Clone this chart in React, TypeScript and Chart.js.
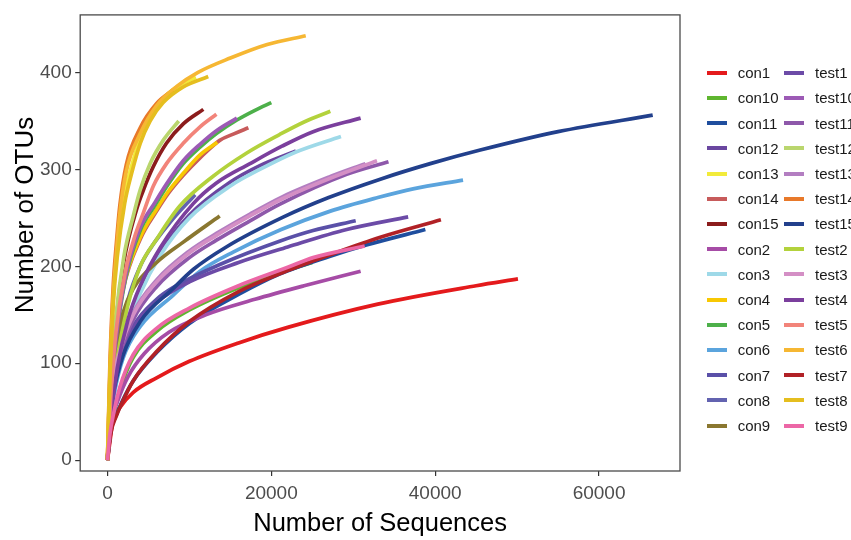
import React, { useEffect, useRef } from "react";
import { Chart, registerables } from "chart.js";
Chart.register(...registerables);

type Pt = [number, number];

// ---- series (x = number of sequences, y = number of OTUs) ----
const con1: Pt[] = [[0,0],[700,41],[1500,54],[3150,70],[6000,85],[10000,102],[16000,121],[22000,137],[33000,161],[45000,180],[50100,187]];
const con10: Pt[] = [[0,0],[300,26],[800,48],[1500,72],[3150,106],[6000,133],[10000,155],[16000,178],[22000,196],[25000,204]];
const con11: Pt[] = [[0,0],[400,30],[1100,47],[1700,59],[3150,82],[6000,111],[10000,141],[16000,171],[21000,192],[27000,210],[31600,222],[38800,238]];
const con12: Pt[] = [[0,0],[500,47],[1200,90],[2500,140],[4000,175],[6500,215],[10000,253],[15000,287],[18600,304],[23000,319]];
const con13: Pt[] = [[0,0],[300,88],[700,165],[1200,218],[2100,275],[3000,305],[4000,332],[5200,355],[6800,373],[9000,388],[10800,395]];
const con14: Pt[] = [[0,0],[400,68],[900,122],[1900,176],[4000,228],[6000,257],[7400,275],[9250,294],[11300,312],[13700,330],[15500,337],[17200,343]];
const con15: Pt[] = [[0,0],[400,70],[1000,140],[2000,205],[3560,259],[4400,279],[5600,303],[7200,327],[9250,347],[11700,362]];
const con2: Pt[] = [[0,0],[400,38],[1200,60],[2500,86],[4500,110],[7500,132],[12000,150],[18000,166],[24000,180],[30900,195]];
const con3: Pt[] = [[0,0],[500,45],[1200,88],[2500,138],[4000,172],[6500,212],[10000,250],[15000,283],[18600,300],[23000,318],[28500,334]];
const con4: Pt[] = [[0,0],[400,70],[900,125],[1900,178],[4000,230],[6000,259],[7400,277],[9250,296],[11300,315],[13400,328]];
const con5: Pt[] = [[0,0],[400,60],[1000,120],[2200,187],[4000,237],[5800,263],[7200,282],[9250,306],[11300,323],[13300,337],[15800,351],[18000,361],[20000,369]];
const con6: Pt[] = [[0,0],[300,42],[700,64],[1900,105],[4000,138],[8000,170],[11300,195],[15400,215],[21200,238],[27200,257],[33000,271],[37300,280],[43400,289]];
const con7: Pt[] = [[0,0],[600,65],[1500,103],[3150,138],[6000,166],[8000,178],[14000,203],[21000,226],[25100,237],[30300,247]];
const con8: Pt[] = [[0,0],[500,60],[1200,110],[2500,165],[4000,200],[5200,218],[7600,245],[10700,274]];
const con9: Pt[] = [[0,0],[500,70],[1000,115],[1900,152],[3150,177],[6000,204],[9250,225],[13700,252]];
const test1: Pt[] = [[0,0],[600,65],[1500,100],[3150,136],[6000,163],[10000,184],[16000,204],[22000,220],[29200,238],[36700,251]];
const test10: Pt[] = [[0,0],[400,62],[1000,122],[2200,190],[4000,240],[5800,266],[7200,285],[9250,309],[11300,326],[13300,340],[15800,353]];
const test11: Pt[] = [[0,0],[600,72],[1500,108],[3150,145],[6000,179],[10000,209],[13300,227],[17400,247],[21000,264],[29200,295],[34300,308]];
const test12: Pt[] = [[0,0],[400,75],[1000,145],[2000,210],[3150,252],[4000,279],[5200,306],[6800,330],[8700,350]];
const test13: Pt[] = [[0,0],[600,76],[1500,114],[3150,152],[6000,186],[10000,216],[13300,234],[17400,254],[21400,272],[27000,292],[31500,306]];
const test14: Pt[] = [[0,0],[300,100],[700,180],[1100,225],[1500,262],[2300,305],[4000,343],[6000,368],[8000,382]];
const test15: Pt[] = [[0,0],[300,45],[700,68],[1900,108],[4000,143],[8000,177],[10500,197],[14500,220],[21500,251],[27000,271],[33300,290],[39400,306],[45500,320],[55000,339],[66550,356]];
const test2: Pt[] = [[0,0],[500,55],[1200,105],[2500,160],[4000,200],[6000,228],[8800,262],[12900,293],[17000,317],[21000,336],[24000,349],[27200,360]];
const test3: Pt[] = [[0,0],[600,75],[1500,112],[3150,150],[6000,184],[10000,214],[13300,232],[17400,252],[21400,270],[27200,291],[32900,309]];
const test4: Pt[] = [[0,0],[500,50],[1200,95],[2500,145],[4000,180],[6500,220],[10500,265],[13300,286],[17400,306],[21300,324],[25100,339],[30900,353]];
const test5: Pt[] = [[0,0],[400,65],[1000,130],[2200,195],[3300,230],[4370,255],[5600,283],[7200,306],[9250,327],[11300,344],[13300,357]];
const test6: Pt[] = [[0,0],[300,90],[700,170],[1100,215],[1450,250],[2300,298],[4000,337],[6000,366],[8500,386],[11000,400],[15000,415],[19500,429],[24200,438]];
const test7: Pt[] = [[0,0],[400,28],[1100,46],[1700,58],[3150,82],[6000,112],[10000,143],[16000,174],[21500,194],[27200,212],[33300,230],[40700,248]];
const test8: Pt[] = [[0,0],[300,85],[700,160],[1200,210],[2100,265],[2950,296],[4000,327],[5200,350],[6800,369],[9200,385],[12300,396]];
const test9: Pt[] = [[0,0],[300,27],[800,50],[1500,75],[3150,109],[6000,136],[10000,157],[16000,180],[22000,199],[25100,209],[31400,221]];

const seriesNames = ["con1","con10","con11","con12","con13","con14","con15","con2","con3","con4","con5","con6","con7","con8","con9",
  "test1","test10","test11","test12","test13","test14","test15","test2","test3","test4","test5","test6","test7","test8","test9"];
const seriesData = [con1,con10,con11,con12,con13,con14,con15,con2,con3,con4,con5,con6,con7,con8,con9,
  test1,test10,test11,test12,test13,test14,test15,test2,test3,test4,test5,test6,test7,test8,test9];
const seriesColors = ["#E41A1C","#5FB62F","#1F4E9E","#6A47A0","#F2EB3A","#C75B5B","#8B1C1C","#A64CA6","#9ED9E8","#F8C803","#4DB04A","#5BA4DD","#5A50A8","#6363B0","#8A7730",
  "#6C4BA7","#9C5AB5","#8E58AA","#BAD66E","#B37EC1","#E8792A","#22408C","#B3D23C","#D48FC5","#7B3F9D","#F2847A","#F6B733","#B12126","#E5BE1F","#EC67A6"];

const xTicks = [0, 20000, 40000, 60000];
const yTicks = [0, 100, 200, 300, 400];
const xTitle = "Number of Sequences";
const yTitle = "Number of OTUs";

const FONT = '"Liberation Sans", Arial, Helvetica, sans-serif';

const panelPlugin = {
  id: "panelFrame",
  afterDatasetsDraw(chart: any) {
    const { ctx, chartArea: a } = chart;
    ctx.save();
    ctx.strokeStyle = "#4a4a4a";
    ctx.lineWidth = 1.3;
    ctx.strokeRect(a.left, a.top, a.right - a.left, a.bottom - a.top);
    ctx.fillStyle = "#000";
    ctx.textAlign = "center";
    ctx.textBaseline = "alphabetic";
    ctx.font = `25.5px ${FONT}`;
    ctx.fillText(xTitle, (a.left + a.right) / 2, 530.5);
    ctx.translate(32.5, 215);
    ctx.rotate(-Math.PI / 2);
    ctx.font = `26px ${FONT}`;
    ctx.fillText(yTitle, 0, 0);
    ctx.restore();
  },
};

export default function App() {
  const ref = useRef<HTMLCanvasElement | null>(null);
  useEffect(() => {
    if (!ref.current) return;
    const tickFont = { family: FONT, size: 19 };
    const chart = new Chart(ref.current, {
      type: "line",
      data: {
        datasets: seriesNames.map((name, i) => ({
          label: name,
          data: seriesData[i].map(([x, y]) => ({ x, y })),
          borderColor: seriesColors[i],
          backgroundColor: seriesColors[i],
          borderWidth: 3.7,
          pointRadius: 0,
          pointHoverRadius: 0,
          fill: false,
          cubicInterpolationMode: "monotone" as const,
          order: seriesNames.length - i,
        })),
      },
      options: {
        animation: false,
        responsive: true,
        maintainAspectRatio: false,
        events: [],
        layout: { padding: { top: 10, right: 171, left: 0, bottom: 0 } },
        plugins: { legend: { display: false }, tooltip: { enabled: false } },
        scales: {
          x: {
            type: "linear",
            min: -3328,
            max: 69881,
            afterBuildTicks: (s: any) => { s.ticks = xTicks.map((v) => ({ value: v })); },
            afterFit: (s: any) => { s.height = 69; },
            grid: { drawOnChartArea: false, drawTicks: true, tickLength: 5, color: "#333", lineWidth: 1.2 },
            border: { display: false },
            ticks: { font: tickFont, color: "#4D4D4D", padding: 6, maxRotation: 0, autoSkip: false, callback: (v: any) => String(v) },
          },
          y: {
            type: "linear",
            min: -11.2,
            max: 459.5,
            afterBuildTicks: (s: any) => { s.ticks = yTicks.map((v) => ({ value: v })); },
            afterFit: (s: any) => { s.width = 80.2; },
            grid: { drawOnChartArea: false, drawTicks: true, tickLength: 5, color: "#333", lineWidth: 1.2 },
            border: { display: false },
            ticks: { font: tickFont, color: "#4D4D4D", padding: 3.5, autoSkip: false, callback: (v: any) => String(v) },
          },
        },
      },
      plugins: [panelPlugin],
    });
    return () => chart.destroy();
  }, []);

  return (
    <div style={{ position: "absolute", left: 0, top: 0, width: 851, height: 540, overflow: "hidden", background: "#fff", fontFamily: FONT }}>
      <div style={{ position: "absolute", left: 0, top: 0, width: 851, height: 540 }}>
        <canvas ref={ref} />
      </div>
      {seriesNames.map((name, i) => {
        const col = i < 15 ? 0 : 1;
        const row = i % 15;
        const cy = 72.7 + 25.2 * row;
        const swX = col === 0 ? 706.7 : 784.3;
        const txX = col === 0 ? 737.7 : 815;
        return (
          <React.Fragment key={name}>
            <div style={{ position: "absolute", left: swX, top: cy - 2, width: 20, height: 4, background: seriesColors[i] }} />
            <div style={{ position: "absolute", left: txX, top: cy - 7.5, fontSize: 15, lineHeight: "15px", color: "#1a1a1a", whiteSpace: "nowrap" }}>{name}</div>
          </React.Fragment>
        );
      })}
    </div>
  );
}
